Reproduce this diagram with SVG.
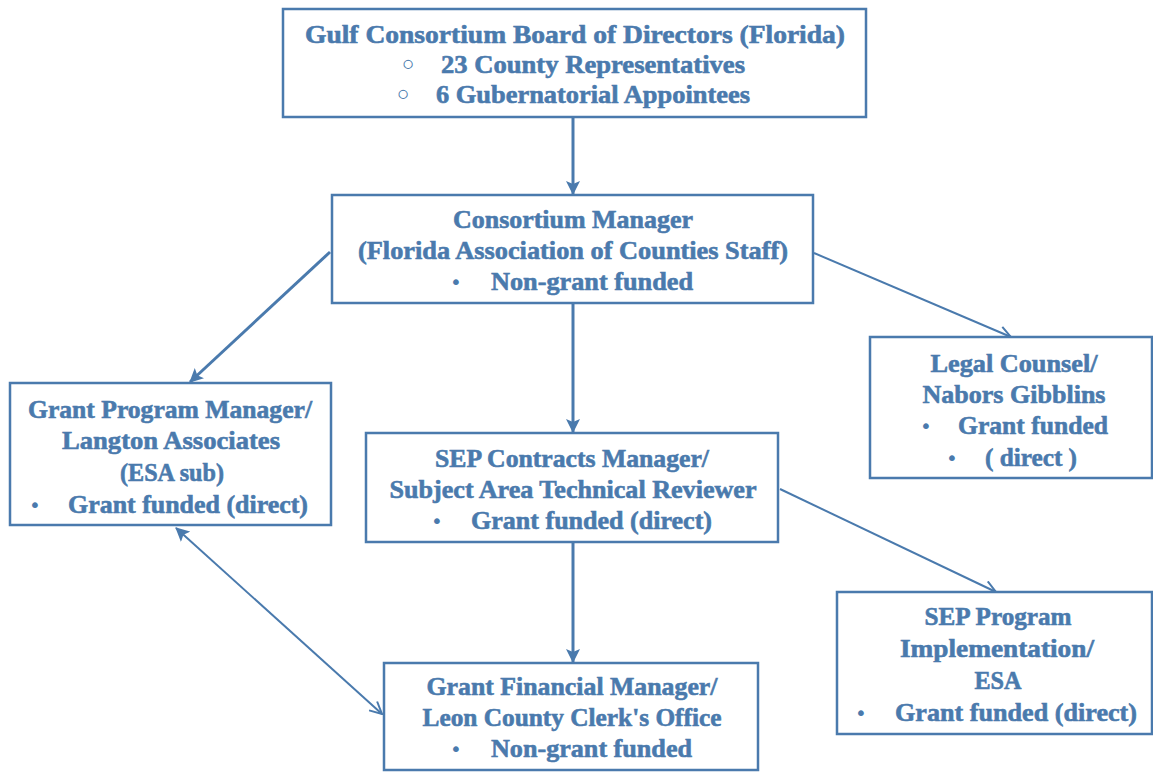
<svg xmlns="http://www.w3.org/2000/svg" width="1153" height="772" viewBox="0 0 1153 772">
<defs>
<style>
.box{fill:#ffffff;stroke:#4a7aad;stroke-width:2.5}
.t{font-family:"Liberation Serif","DejaVu Serif",serif;font-weight:bold;font-size:26px;fill:#4a7aad;stroke:#4a7aad;stroke-width:0.6}
.c{text-anchor:middle}
.b{font-family:"DejaVu Sans","Liberation Sans",sans-serif;font-size:20px;fill:#4a7aad;text-anchor:middle}
.h{font-family:"DejaVu Sans","Liberation Sans",sans-serif;font-size:26px;font-weight:bold;fill:#4a7aad;text-anchor:middle}
.ln{stroke:#4a7aad;stroke-width:3;fill:none}
.ln2{stroke:#4a7aad;stroke-width:2;fill:none}
</style>
<marker id="ah" viewBox="0 0 14 14" refX="13" refY="7" markerWidth="14" markerHeight="14" markerUnits="userSpaceOnUse" orient="auto-start-reverse">
<path d="M0,0 L14,7 L0,14 L3,7 z" fill="#4a7aad"/>
</marker>
<marker id="oh" viewBox="0 0 14 14" refX="13" refY="7" markerWidth="14" markerHeight="14" markerUnits="userSpaceOnUse" orient="auto-start-reverse">
<path d="M1,1 L13,7 L1,13" fill="none" stroke="#4a7aad" stroke-width="2"/>
</marker>
</defs>
<rect width="1153" height="772" fill="#ffffff"/>

<g id="connectors">
<line class="ln" x1="573" y1="118" x2="573" y2="194" marker-end="url(#ah)"/>
<line class="ln" x1="330" y1="252" x2="190" y2="382" stroke-width="3.5" marker-end="url(#ah)"/>
<line class="ln2" x1="814" y1="253" x2="1011" y2="337" marker-end="url(#oh)"/>
<line class="ln" x1="573" y1="304" x2="573" y2="432" marker-end="url(#ah)"/>
<line class="ln2" x1="780" y1="489" x2="996" y2="592" marker-end="url(#oh)"/>
<line class="ln" x1="573" y1="543" x2="573" y2="662" marker-end="url(#ah)"/>
<line class="ln2" x1="176" y1="528" x2="382" y2="714" stroke-width="2.5" marker-start="url(#ah)" marker-end="url(#oh)"/>
</g>

<g id="board">
<rect class="box" x="283" y="9" width="583" height="108"/>
<text class="t c" x="575" y="43" textLength="540" lengthAdjust="spacingAndGlyphs">Gulf Consortium Board of Directors (Florida)</text>
<text class="h" x="408" y="74">◦</text>
<text class="t" x="441" y="73" textLength="304" lengthAdjust="spacingAndGlyphs">23 County Representatives</text>
<text class="h" x="403" y="104">◦</text>
<text class="t" x="436" y="103" textLength="314" lengthAdjust="spacingAndGlyphs">6 Gubernatorial Appointees</text>
</g>

<g id="manager">
<rect class="box" x="332" y="195" width="481" height="108"/>
<text class="t c" x="573" y="228" textLength="240" lengthAdjust="spacingAndGlyphs">Consortium Manager</text>
<text class="t c" x="573" y="259" textLength="430" lengthAdjust="spacingAndGlyphs">(Florida Association of Counties Staff)</text>
<text class="b" x="456" y="289">•</text>
<text class="t" x="491" y="290" textLength="202" lengthAdjust="spacingAndGlyphs">Non-grant funded</text>
</g>

<g id="grant-program">
<rect class="box" x="10" y="383" width="321" height="142"/>
<text class="t c" x="170" y="418" textLength="284" lengthAdjust="spacingAndGlyphs">Grant Program Manager/</text>
<text class="t c" x="171" y="449" textLength="218" lengthAdjust="spacingAndGlyphs">Langton Associates</text>
<text class="t c" x="172" y="481" textLength="104" lengthAdjust="spacingAndGlyphs">(ESA sub)</text>
<text class="b" x="35" y="512">•</text>
<text class="t" x="68" y="513" textLength="240" lengthAdjust="spacingAndGlyphs">Grant funded (direct)</text>
</g>

<g id="legal">
<rect class="box" x="870" y="337" width="282" height="141"/>
<text class="t c" x="1014" y="372" textLength="167" lengthAdjust="spacingAndGlyphs">Legal Counsel/</text>
<text class="t c" x="1014" y="403" textLength="183" lengthAdjust="spacingAndGlyphs">Nabors Gibblins</text>
<text class="b" x="926" y="433">•</text>
<text class="t" x="958" y="434" textLength="150" lengthAdjust="spacingAndGlyphs">Grant funded</text>
<text class="b" x="952" y="465">•</text>
<text class="t" x="985" y="466" textLength="92" lengthAdjust="spacingAndGlyphs">( direct )</text>
</g>

<g id="sep-contracts">
<rect class="box" x="366" y="433" width="412" height="109"/>
<text class="t c" x="572" y="467" textLength="274" lengthAdjust="spacingAndGlyphs">SEP Contracts Manager/</text>
<text class="t c" x="573" y="498" textLength="367" lengthAdjust="spacingAndGlyphs">Subject Area Technical Reviewer</text>
<text class="b" x="437" y="528">•</text>
<text class="t" x="471" y="529" textLength="241" lengthAdjust="spacingAndGlyphs">Grant funded (direct)</text>
</g>

<g id="sep-program">
<rect class="box" x="837" y="592" width="315" height="142"/>
<text class="t c" x="998" y="625" textLength="147" lengthAdjust="spacingAndGlyphs">SEP Program</text>
<text class="t c" x="997" y="657" textLength="194" lengthAdjust="spacingAndGlyphs">Implementation/</text>
<text class="t c" x="998" y="689" textLength="47" lengthAdjust="spacingAndGlyphs">ESA</text>
<text class="b" x="861" y="720">•</text>
<text class="t" x="895" y="721" textLength="242" lengthAdjust="spacingAndGlyphs">Grant funded (direct)</text>
</g>

<g id="grant-financial">
<rect class="box" x="384" y="663" width="374" height="107"/>
<text class="t c" x="572" y="695" textLength="291" lengthAdjust="spacingAndGlyphs">Grant Financial Manager/</text>
<text class="t c" x="572" y="726" textLength="299" lengthAdjust="spacingAndGlyphs">Leon County Clerk's Office</text>
<text class="b" x="456" y="756">•</text>
<text class="t" x="491" y="757" textLength="201" lengthAdjust="spacingAndGlyphs">Non-grant funded</text>
</g>
</svg>
